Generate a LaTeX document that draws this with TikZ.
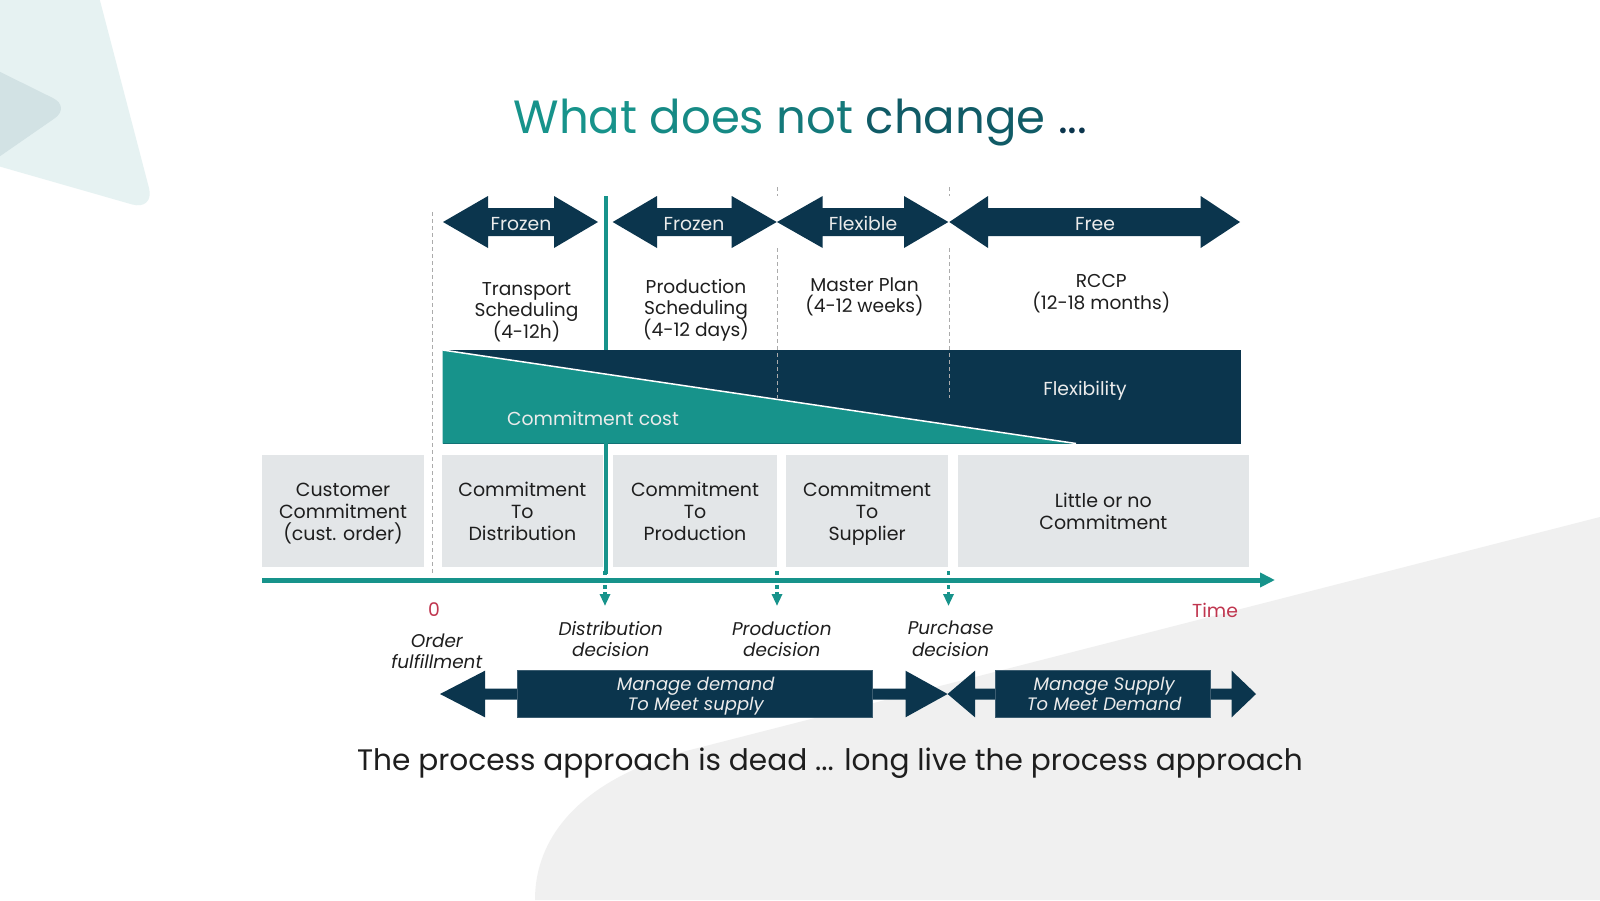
\documentclass[tikz,border=0pt]{standalone}
\usepackage{fontspec}
\setmainfont{Poppins}
\usetikzlibrary{arrows.meta}
\definecolor{teal1}{HTML}{17938B}
\definecolor{navy}{HTML}{0B354D}
\definecolor{boxgrey}{HTML}{E3E6E8}
\definecolor{bggrey}{HTML}{F0F0F0}
\definecolor{tri1}{HTML}{E6F2F2}
\definecolor{tri2}{HTML}{D2E2E4}
\definecolor{crimson}{HTML}{C0364F}
\definecolor{dashgrey}{HTML}{ABABAB}
\definecolor{txt}{HTML}{1E1E1E}
\newcommand\nolsk{\lineskiplimit=-20pt\relax}
\newcommand\dblarr[7]{%
 \fill[navy] ({#1},{#5}) -- ({#2},{#5-#6}) -- ({#2},{#5-#7}) -- ({#3},{#5-#7}) -- ({#3},{#5-#6}) -- ({#4},{#5}) -- ({#3},{#5+#6}) -- ({#3},{#5+#7}) -- ({#2},{#5+#7}) -- ({#2},{#5+#6}) -- cycle;}
\tikzset{
 lbl/.style={font=\fontsize{9.3}{10.8}\selectfont\nolsk, text=txt, align=center, inner sep=0pt},
 wlbl/.style={font=\fontsize{9.4}{10.5}\selectfont, text=white!92!black, align=center, inner sep=0pt, anchor=base},
 ilbl/.style={font=\fontsize{9.2}{10.75}\selectfont\itshape\nolsk, text=txt, align=center, inner sep=0pt},
 wilbl/.style={font=\fontsize{9}{10.35}\selectfont\itshape\nolsk, text=white!92!black, align=center, inner sep=0pt},
 rlbl/.style={font=\fontsize{9.4}{10.5}\selectfont, text=crimson, inner sep=0pt, anchor=base},
 gbox/.style={fill=boxgrey, inner sep=0pt, minimum height=55.85pt},
 btxt/.style={font=\fontsize{9.5}{11}\selectfont\nolsk, text=txt, align=center, inner sep=0pt},
 dashv/.style={draw=dashgrey, line width=0.5pt, dash pattern=on 2pt off 1.5pt},
 dotarr/.style={draw=teal1, line width=1.75pt, dash pattern=on 1.75pt off 1.75pt, -{Triangle[length=6pt,width=5pt]}},
 navybox/.style={fill=navy, draw=navy!80!white, line width=0.4pt},
}
\begin{document}
\begin{tikzpicture}[x=0.5pt,y=-0.5pt]
\useasboundingbox (0,0) rectangle (1600,900);
\fill[white] (0,0) rectangle (1600,900);
% background shapes
\fill[tri1, rounded corners=12pt] (-30,-30) -- (92,-30) -- (155,211) -- (-30,158) -- cycle;
\fill[tri2, rounded corners=10pt] (-30,57) -- (71,107) -- (-30,177) -- cycle;
\fill[bggrey] (1600,517) -- (690,750) .. controls (590,776) and (535,830) .. (535,900) -- (1600,900) -- cycle;
% title
\node[inner sep=0pt, anchor=base, font=\fontsize{23.3}{28}\selectfont] (title) at (800.5,133.3)
 {\textcolor{teal1}{What} \textcolor{teal1!90!navy}{does} \textcolor{teal1!72!navy}{not} \textcolor{teal1!40!navy}{change} \textcolor{navy}{...}};
% vertical guide lines
\coordinate (g1t) at (432,212); \coordinate (g1b) at (432,576);
\coordinate (g2t) at (777,187); \coordinate (g2b) at (777,398);
\coordinate (g3t) at (949,187); \coordinate (g3b) at (949,398);
\coordinate (vt) at (606,196); \coordinate (vb) at (606,574);
\draw[dashv] (g1t) -- (g1b);
\draw[teal1, line width=2pt] (vt) -- (vb);
% top arrows
\dblarr{443}{488}{554}{598}{222}{26}{14}
\dblarr{612.7}{657}{731.7}{776.7}{222}{26}{14}
\dblarr{777}{822.7}{904}{948.3}{222}{26}{14}
\dblarr{949.3}{988}{1200.7}{1240}{222}{26}{14}
\draw[dashv] (g2t) -- (777,196);
\draw[dashv] (g3t) -- (949,196);
\node[wlbl] (fz1) at (521,230.3) {Frozen};
\node[wlbl] (fz2) at (694,230.3) {Frozen};
\node[wlbl] (flx) at (863,230.3) {Flexible};
\node[wlbl] (fre) at (1095,230.3) {Free};
% horizon labels
\node[lbl] (ts) at (526.5,312.3) {\strut Transport\\Scheduling\\(4-12h)\strut};
\node[lbl] (ps) at (696,310.6) {\strut Production\\Scheduling\\(4-12 days)\strut};
\node[lbl] (mp) at (864.5,297.5) {\strut Master Plan\\(4-12 weeks)\strut};
\node[lbl] (rc) at (1101.3,294.2) {\strut RCCP\\(12-18 months)\strut};
% flexibility bar
\fill[navy] (442.5,350) rectangle (1241,443.5);
\draw[dashv] (777,248) -- (g2b);
\draw[dashv] (949,248) -- (g3b);
\fill[teal1] (442.5,350) -- (1076,443.5) -- (442.5,443.5) -- cycle;
\draw[white, line width=0.75pt] (442.5,350) -- (1076,443.5);
\node[wlbl] (cc) at (593,425) {Commitment cost};
\node[wlbl] (fl) at (1085,395) {Flexibility};
% commitment boxes
\node[gbox, minimum width=81pt] (b1) at (343,510.85) {};
\node[gbox, minimum width=80.35pt] (b2) at (522.35,510.85) {};
\node[gbox, minimum width=81.7pt] (b3) at (695,510.85) {};
\node[gbox, minimum width=81.15pt] (b4) at (867.15,510.85) {};
\node[gbox, minimum width=145.65pt] (b5) at (1103.35,510.85) {};
\node[btxt] (t1) at (343,513.6) {\strut Customer\\Commitment\\(cust. order)\strut};
\node[btxt] (t2) at (522.35,513.6) {\strut Commitment\\To\\Distribution\strut};
\node[btxt] (t3) at (695,513.6) {\strut Commitment\\To\\Production\strut};
\node[btxt] (t4) at (867.15,513.6) {\strut Commitment\\To\\Supplier\strut};
\node[btxt] (t5) at (1103.35,514.4) {\strut Little or no\\Commitment\strut};
\draw[teal1, line width=2pt] (606,440) -- (vb);
% time axis
\coordinate (ax0) at (262,580); \coordinate (ax1) at (1275,580);
\draw[teal1, line width=2.5pt, -{Triangle[length=7.5pt,width=7pt]}] (ax0) -- (ax1);
% decision arrows
\coordinate (d1a) at (605,571); \coordinate (d1b) at (605,606);
\coordinate (d2a) at (777,571); \coordinate (d2b) at (777,606);
\coordinate (d3a) at (948.5,571); \coordinate (d3b) at (948.5,606);
\draw[dotarr] (d1a) -- (d1b);
\draw[dotarr] (d2a) -- (d2b);
\draw[dotarr] (d3a) -- (d3b);
\node[rlbl] (zero) at (434,616.5) {0};
\node[rlbl] (time) at (1215,617.5) {Time};
\node[ilbl] (of) at (436.8,653.5) {\strut Order\\fulfillment\strut};
\node[ilbl] (dd) at (610.8,641.8) {\strut Distribution\\decision\strut};
\node[ilbl] (pd) at (781.8,641.8) {\strut Production\\decision\strut};
\node[ilbl] (pu) at (950.6,641) {\strut Purchase\\decision\strut};
% bottom arrows
\dblarr{440}{485}{905.5}{947.6}{694}{23.3}{5.5}
\dblarr{947.6}{975}{1231.7}{1256}{694}{23.3}{5.5}
\fill[navybox] (517.5,670.7) rectangle (872,717.3);
\fill[navybox] (995,670.7) rectangle (1210.6,717.3);
\node[wilbl] (md) at (695.7,696.2) {\strut Manage demand\\To Meet supply\strut};
\node[wilbl] (ms) at (1104.2,696.2) {\strut Manage Supply\\To Meet Demand\strut};
% caption
\node[inner sep=0pt, anchor=base, text=txt, font=\fontsize{14.8}{18}\selectfont] (cap) at (830,770.5) {The process approach is dead ... long live the process approach};
\end{tikzpicture}
\end{document}
